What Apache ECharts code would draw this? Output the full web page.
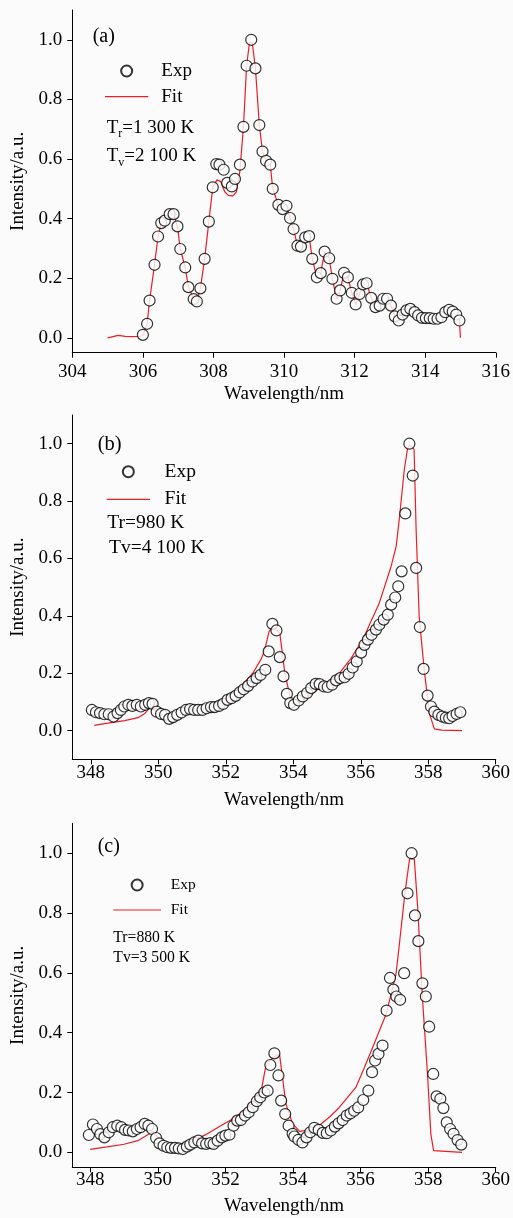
<!DOCTYPE html>
<html>
<head>
<meta charset="utf-8">
<script src="https://cdn.jsdelivr.net/npm/echarts@6/dist/echarts.min.js"></script>
<style>
html,body{margin:0;padding:0;background:#fbfbfb;}
#c{width:513px;height:1218px;}
</style>
</head>
<body>
<div id="c"></div>
<script>
// ---- tick labels ----
const yTicks = [0, 0.2, 0.4, 0.6, 0.8, 1.0];
const xTicksA = [304, 306, 308, 310, 312, 314, 316];
const xTicksBC = [348, 350, 352, 354, 356, 358, 360];

// ---- panel (a) ----
const expA = [[306.0,0.01],[306.12,0.047],[306.19,0.125],[306.33,0.245],[306.43,0.34],[306.52,0.385],[306.62,0.393],[306.76,0.415],[306.87,0.415],[306.98,0.374],[307.06,0.298],[307.2,0.236],[307.29,0.17],[307.44,0.13],[307.53,0.122],[307.63,0.166],[307.75,0.265],[307.87,0.39],[307.98,0.505],[308.08,0.583],[308.17,0.581],[308.29,0.564],[308.39,0.52],[308.52,0.508],[308.61,0.533],[308.75,0.581],[308.85,0.708],[308.94,0.913],[309.07,1.0],[309.19,0.904],[309.3,0.714],[309.39,0.625],[309.49,0.594],[309.61,0.581],[309.68,0.50],[309.84,0.446],[309.96,0.432],[310.07,0.443],[310.17,0.402],[310.27,0.365],[310.38,0.309],[310.48,0.306],[310.6,0.337],[310.71,0.341],[310.8,0.265],[310.93,0.203],[311.04,0.217],[311.15,0.289],[311.28,0.267],[311.37,0.198],[311.49,0.131],[311.59,0.159],[311.7,0.218],[311.81,0.203],[311.92,0.151],[312.03,0.112],[312.14,0.147],[312.24,0.179],[312.34,0.183],[312.47,0.134],[312.59,0.103],[312.71,0.108],[312.81,0.131],[312.92,0.131],[313.03,0.108],[313.14,0.072],[313.25,0.058],[313.36,0.078],[313.47,0.092],[313.58,0.097],[313.7,0.086],[313.8,0.075],[313.91,0.067],[314.02,0.066],[314.13,0.066],[314.24,0.064],[314.35,0.064],[314.46,0.069],[314.57,0.086],[314.68,0.094],[314.78,0.088],[314.88,0.078],[314.97,0.058]];
const fitA = [[305.0,0.0],[305.15,0.004],[305.3,0.008],[305.5,0.005],[305.7,0.004],[305.9,0.005],[306.0,0.007],[306.12,0.047],[306.19,0.125],[306.33,0.245],[306.43,0.34],[306.52,0.385],[306.62,0.393],[306.76,0.415],[306.87,0.415],[306.98,0.374],[307.06,0.298],[307.2,0.236],[307.29,0.17],[307.44,0.13],[307.53,0.122],[307.63,0.166],[307.75,0.265],[307.87,0.39],[307.98,0.505],[308.1,0.53],[308.2,0.525],[308.32,0.49],[308.42,0.478],[308.55,0.476],[308.65,0.49],[308.75,0.56],[308.85,0.708],[308.94,0.913],[309.02,0.99],[309.1,0.99],[309.19,0.904],[309.3,0.714],[309.39,0.625],[309.49,0.594],[309.61,0.581],[309.68,0.50],[309.84,0.446],[309.96,0.432],[310.07,0.443],[310.17,0.402],[310.27,0.365],[310.38,0.309],[310.45,0.287],[310.6,0.337],[310.71,0.341],[310.8,0.265],[310.93,0.203],[311.04,0.217],[311.15,0.289],[311.28,0.267],[311.37,0.198],[311.49,0.131],[311.59,0.159],[311.7,0.218],[311.81,0.203],[311.92,0.151],[312.03,0.112],[312.14,0.147],[312.24,0.179],[312.34,0.183],[312.47,0.134],[312.59,0.103],[312.71,0.108],[312.81,0.131],[312.92,0.131],[313.03,0.108],[313.14,0.072],[313.25,0.058],[313.36,0.078],[313.47,0.092],[313.58,0.097],[313.7,0.086],[313.8,0.075],[313.91,0.067],[314.02,0.066],[314.13,0.066],[314.24,0.064],[314.35,0.064],[314.46,0.069],[314.57,0.086],[314.68,0.094],[314.78,0.088],[314.88,0.078],[314.97,0.058],[315.0,0.0]];

// ---- panel (b) ----
const expB = [[348.03,0.072],[348.15,0.064],[348.27,0.061],[348.4,0.057],[348.53,0.057],[348.67,0.049],[348.79,0.061],[348.89,0.072],[348.99,0.084],[349.11,0.090],[349.23,0.086],[349.36,0.090],[349.48,0.084],[349.61,0.090],[349.72,0.096],[349.83,0.093],[349.95,0.066],[350.08,0.058],[350.2,0.055],[350.32,0.041],[350.44,0.047],[350.56,0.055],[350.69,0.063],[350.82,0.072],[350.94,0.075],[351.06,0.072],[351.18,0.072],[351.31,0.072],[351.43,0.078],[351.56,0.082],[351.67,0.082],[351.8,0.086],[351.92,0.093],[352.05,0.107],[352.17,0.113],[352.29,0.121],[352.41,0.133],[352.53,0.144],[352.66,0.156],[352.79,0.171],[352.91,0.183],[353.03,0.194],[353.17,0.212],[353.27,0.276],[353.38,0.372],[353.5,0.349],[353.6,0.256],[353.71,0.189],[353.81,0.128],[353.91,0.096],[354.02,0.09],[354.16,0.105],[354.28,0.119],[354.41,0.131],[354.53,0.148],[354.66,0.163],[354.78,0.162],[354.91,0.154],[355.02,0.152],[355.15,0.16],[355.27,0.175],[355.39,0.183],[355.52,0.186],[355.64,0.198],[355.76,0.22],[355.88,0.241],[356.01,0.272],[356.11,0.299],[356.21,0.317],[356.32,0.334],[356.45,0.352],[356.55,0.369],[356.68,0.387],[356.8,0.404],[356.9,0.439],[357.02,0.464],[357.11,0.503],[357.21,0.555],[357.32,0.757],[357.44,1.0],[357.54,0.889],[357.64,0.567],[357.75,0.361],[357.86,0.215],[357.98,0.122],[358.08,0.084],[358.18,0.066],[358.3,0.055],[358.41,0.049],[358.52,0.045],[358.62,0.043],[358.72,0.051],[358.84,0.058],[358.95,0.064]];
const fitB = [[348.1,0.018],[348.5,0.026],[349.0,0.035],[349.4,0.045],[349.6,0.06],[349.75,0.08],[349.9,0.072],[350.1,0.055],[350.4,0.045],[350.7,0.055],[351.0,0.068],[351.4,0.075],[351.8,0.09],[352.2,0.13],[352.5,0.16],[352.8,0.2],[353.05,0.25],[353.15,0.28],[353.28,0.345],[353.35,0.355],[353.5,0.35],[353.6,0.34],[353.75,0.2],[353.9,0.12],[354.0,0.085],[354.4,0.115],[354.8,0.15],[355.1,0.175],[355.37,0.20],[355.7,0.25],[356.06,0.317],[356.3,0.38],[356.55,0.445],[356.9,0.573],[357.05,0.643],[357.14,0.736],[357.29,0.91],[357.39,0.986],[357.45,0.995],[357.58,0.98],[357.64,0.70],[357.73,0.398],[357.88,0.212],[358.03,0.061],[358.18,0.006],[358.4,0.002],[359.0,0.0]];

// ---- panel (c) ----
const expC = [[347.96,0.058],[348.08,0.093],[348.2,0.078],[348.3,0.061],[348.42,0.05],[348.55,0.067],[348.67,0.084],[348.8,0.089],[348.92,0.084],[349.03,0.075],[349.14,0.073],[349.26,0.07],[349.38,0.078],[349.49,0.084],[349.61,0.095],[349.72,0.089],[349.83,0.078],[349.95,0.048],[350.05,0.03],[350.17,0.022],[350.28,0.017],[350.39,0.015],[350.51,0.015],[350.62,0.013],[350.74,0.011],[350.86,0.019],[350.96,0.026],[351.08,0.033],[351.2,0.039],[351.31,0.03],[351.43,0.028],[351.55,0.031],[351.65,0.028],[351.77,0.039],[351.89,0.05],[352.0,0.056],[352.12,0.059],[352.24,0.089],[352.35,0.106],[352.46,0.108],[352.58,0.123],[352.69,0.134],[352.81,0.151],[352.93,0.171],[353.03,0.184],[353.15,0.2],[353.25,0.206],[353.33,0.292],[353.45,0.331],[353.57,0.257],[353.65,0.173],[353.77,0.128],[353.87,0.089],[353.99,0.062],[354.04,0.053],[354.16,0.042],[354.28,0.033],[354.4,0.05],[354.51,0.067],[354.63,0.082],[354.76,0.075],[354.88,0.065],[355.0,0.064],[355.12,0.073],[355.24,0.086],[355.35,0.097],[355.47,0.108],[355.59,0.123],[355.7,0.13],[355.81,0.139],[355.93,0.15],[356.08,0.175],[356.23,0.206],[356.34,0.268],[356.43,0.307],[356.53,0.329],[356.65,0.357],[356.77,0.474],[356.87,0.583],[356.97,0.544],[357.06,0.521],[357.17,0.51],[357.29,0.599],[357.39,0.866],[357.51,1.0],[357.61,0.792],[357.71,0.706],[357.83,0.565],[357.93,0.521],[358.03,0.42],[358.15,0.262],[358.25,0.187],[358.36,0.179],[358.45,0.148],[358.55,0.1],[358.65,0.078],[358.75,0.062],[358.87,0.041],[358.98,0.026]];
const fitC = [[348.0,0.01],[348.5,0.018],[349.0,0.027],[349.41,0.039],[349.7,0.059],[349.85,0.07],[350.0,0.05],[350.3,0.03],[350.6,0.025],[351.0,0.035],[351.43,0.06],[351.8,0.085],[352.22,0.112],[352.5,0.135],[352.81,0.167],[353.08,0.217],[353.18,0.279],[353.25,0.3],[353.4,0.315],[353.6,0.329],[353.79,0.162],[353.99,0.095],[354.2,0.07],[354.5,0.075],[354.83,0.095],[355.1,0.12],[355.37,0.15],[355.86,0.217],[356.1,0.28],[356.36,0.351],[356.76,0.463],[357.05,0.597],[357.16,0.708],[357.31,0.864],[357.45,0.981],[357.59,0.981],[357.69,0.819],[357.83,0.518],[357.98,0.262],[358.08,0.061],[358.16,0.006],[359.0,0.0]];

const FONT = '"Liberation Serif", "Times New Roman", serif';
const RED = '#ee1c25';

const grids = [
  {left: 72.3, top: 10, width: 425, height: 342.7},
  {left: 72.3, top: 415, width: 424.4, height: 344.3},
  {left: 72.3, top: 823.3, width: 424.4, height: 344}
];
const xRanges = [[304, 316], [347.45, 360], [347.47, 360]];
const yRanges = [[-0.05, 1.1], [-0.1, 1.1], [-0.05, 1.1]];
const xLabelMargin = [10, 4, 3];
const xNameGap = [32, 31, 29];
const xTickSets = [xTicksA, xTicksBC, xTicksBC];

const axisLineStyle = {lineStyle: {color: '#000', width: 1}};
const xAxes = grids.map((g, i) => ({
  gridIndex: i, type: 'value', min: xRanges[i][0], max: xRanges[i][1],
  name: 'Wavelength/nm', nameLocation: 'middle', nameGap: xNameGap[i],
  nameTextStyle: {fontFamily: FONT, fontSize: 19, color: '#000'},
  axisLine: {show: true, onZero: false, ...axisLineStyle},
  axisTick: {show: true, inside: false, length: 5, customValues: xTickSets[i], lineStyle: {color: '#000'}},
  axisLabel: {customValues: xTickSets[i], fontFamily: FONT, fontSize: 19, color: '#000', margin: xLabelMargin[i]},
  splitLine: {show: false}
}));
const yAxes = grids.map((g, i) => ({
  gridIndex: i, type: 'value', min: yRanges[i][0], max: yRanges[i][1],
  name: 'Intensity/a.u.', nameLocation: 'middle', nameGap: 44, nameRotate: 90,
  nameTextStyle: {fontFamily: FONT, fontSize: 19, color: '#000'},
  axisLine: {show: true, onZero: false, ...axisLineStyle},
  axisTick: {show: true, inside: false, length: 5, customValues: yTicks, lineStyle: {color: '#000'}},
  axisLabel: {customValues: yTicks, fontFamily: FONT, fontSize: 19, color: '#000', margin: 10,
    formatter: v => v.toFixed(1)},
  splitLine: {show: false}
}));

function expSeries(data, i) {
  return {name: 'Exp', type: 'scatter', xAxisIndex: i, yAxisIndex: i, data: data,
    symbol: 'circle', symbolSize: 11, z: 3,
    itemStyle: {color: '#ffffff', borderColor: '#000', borderWidth: 1.2}};
}
function fitSeries(data, i) {
  return {name: 'Fit', type: 'line', xAxisIndex: i, yAxisIndex: i, data: data,
    symbol: 'none', showSymbol: false, z: 2,
    lineStyle: {color: RED, width: 1.2}, itemStyle: {color: RED}};
}

const legends = [
  {left: 105, top: 61.5, itemWidth: 43.3, itemHeight: 11, itemGap: 6.7, fs: 19, lh: 19, pad: 8},
  {left: 106.7, top: 461.7, itemWidth: 43.3, itemHeight: 11, itemGap: 7.6, fs: 19.5, lh: 20, pad: 9.6},
  {left: 113.3, top: 877, itemWidth: 47.7, itemHeight: 11, itemGap: 9, fs: 15.5, lh: 16, pad: 4.7}
].map(l => ({
  orient: 'vertical', left: l.left, top: l.top, itemWidth: l.itemWidth, itemHeight: l.itemHeight,
  itemGap: l.itemGap, selectedMode: false, padding: 0,
  data: [
    {name: 'Exp'},
    {name: 'Fit', icon: 'path://M0,0L' + (l.itemWidth * 10).toFixed(0) + ',0L' + (l.itemWidth * 10).toFixed(0) + ',12L0,12Z',
     itemStyle: {color: RED, borderWidth: 0}}
  ],
  textStyle: {fontFamily: FONT, fontSize: l.fs, lineHeight: l.lh, color: '#000', padding: [0, 0, 0, l.pad]}
}));

function txt(x, y, text, fs) {
  return {type: 'text', x: x, y: y, style: {text: text, font: fs + 'px ' + FONT, fill: '#000', verticalAlign: 'middle', align: 'left'}};
}
function subTxt(x, y, sub, rest, fs) {
  return {type: 'text', x: x, y: y, style: {
    text: '{t|T}{s|' + sub + '}{t|' + rest + '}', verticalAlign: 'middle', align: 'left',
    rich: {
      t: {fontFamily: FONT, fontSize: fs, lineHeight: fs + 2, fill: '#000', verticalAlign: 'bottom'},
      s: {fontFamily: FONT, fontSize: 12, lineHeight: 12, fill: '#000', verticalAlign: 'bottom', padding: [0, 0, -3, 0]}
    }}};
}

const option = {
  backgroundColor: '#fbfbfb',
  animation: false,
  grid: grids,
  xAxis: xAxes,
  yAxis: yAxes,
  legend: legends,
  series: [fitSeries(fitA, 0), expSeries(expA, 0), fitSeries(fitB, 1), expSeries(expB, 1), fitSeries(fitC, 2), expSeries(expC, 2)],
  graphic: [
    txt(92.7, 36.7, '(a)', 20),
    txt(97.7, 444.3, '(b)', 20.5),
    txt(97.7, 846.7, '(c)', 20),
    subTxt(106.7, 126.7, 'r', '=1 300 K', 19),
    subTxt(106.7, 155, 'v', '=2 100 K', 19),
    txt(107.3, 522.7, 'Tr=980 K', 19.5),
    txt(109, 547.7, 'Tv=4 100 K', 19.5),
    txt(113.3, 937.7, 'Tr=880 K', 15.7),
    txt(113.3, 957.7, 'Tv=3 500 K', 15.7)
  ]
};

const chart = echarts.init(document.getElementById('c'), null, {renderer: 'canvas', width: 513, height: 1218});
chart.setOption(option);
</script>
</body>
</html>
